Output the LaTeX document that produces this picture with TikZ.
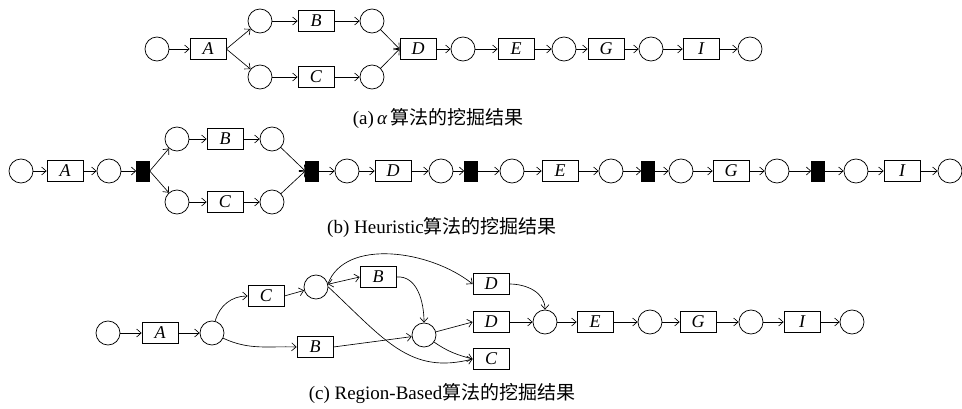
\documentclass[tikz,border=0pt]{standalone}
\usepackage{fontspec}
\setmainfont{Liberation Serif}
\newfontfamily\cjk{Noto Sans CJK SC}
\usetikzlibrary{arrows.meta}

\begin{document}
\begin{tikzpicture}[x=1pt,y=-1pt,
  place/.style={circle,draw,line width=0.75pt,minimum size=24pt,inner sep=0pt},
  trans/.style={rectangle,draw,fill=white,line width=0.75pt,minimum width=36pt,minimum height=21pt,inner sep=0pt,
    font=\fontsize{18}{18}\selectfont\itshape},
  silent/.style={rectangle,fill=black,draw,line width=0.5pt,minimum width=13pt,minimum height=20pt,inner sep=0pt},
  arc/.style={-{Straight Barb[length=4.5pt,width=8pt]},line width=0.65pt},
  biarc/.style={{Straight Barb[length=4.5pt,width=8pt]}-{Straight Barb[length=4.5pt,width=8pt]},line width=0.65pt},
  captext/.style={font=\fontsize{19}{19}\selectfont,inner sep=0pt}
]
\useasboundingbox (0,0) rectangle (962,408);

% ---------- (a) alpha algorithm ----------
\node[place] (a1) at (157,49) {};
\node[trans] (aA) at (208,49) {A};
\node[place] (a2) at (260,21) {};
\node[place] (a3) at (260,77) {};
\node[trans] (aB) at (316,21) {B};
\node[trans] (aC) at (316,77) {C};
\node[place] (a4) at (372,21) {};
\node[place] (a5) at (372,77) {};
\node[trans] (aD) at (418,49) {D};
\node[place] (a6) at (463,49) {};
\node[trans] (aE) at (516,49) {E};
\node[place] (a7) at (564,49) {};
\node[trans] (aG) at (606,49) {G};
\node[place] (a8) at (651,49) {};
\node[trans] (aI) at (701,49) {I};
\node[place] (a9) at (750,49) {};

\draw[arc] (a1) -- (aA);
\draw[arc] (aA.east) -- (a2);
\draw[arc] (aA.east) -- (a3);
\draw[arc] (a2) -- (aB);
\draw[arc] (aB) -- (a4);
\draw[arc] (a3) -- (aC);
\draw[arc] (aC) -- (a5);
\draw[arc] (a4) -- (aD.west);
\draw[arc] (a5) -- (aD.west);
\draw[arc] (aD) -- (a6);
\draw[arc] (a6) -- (aE);
\draw[arc] (aE) -- (a7);
\draw[arc] (a7) -- (aG);
\draw[arc] (aG) -- (a8);
\draw[arc] (a8) -- (aI);
\draw[arc] (aI) -- (a9);

\node[captext] (capa) at (438,118) {(a)\,{\itshape α}\,{\cjk 算法的挖掘结果}};

% ---------- (b) Heuristic miner ----------
\node[place] (b1) at (21,171) {};
\node[trans] (bA) at (65,171) {A};
\node[place] (b2) at (109,171) {};
\node[silent] (s1) at (143,171) {};
\node[place] (b3) at (177,139) {};
\node[place] (b4) at (177,202) {};
\node[trans] (bB) at (225,139) {B};
\node[trans] (bC) at (225,202) {C};
\node[place] (b5) at (272,139) {};
\node[place] (b6) at (272,202) {};
\node[silent] (s2) at (312,171) {};
\node[place] (b7) at (347,171) {};
\node[trans] (bD) at (393,171) {D};
\node[place] (b8) at (441,171) {};
\node[silent] (s3) at (471,171) {};
\node[place] (b9) at (512,171) {};
\node[trans] (bE) at (560,171) {E};
\node[place] (b10) at (611,171) {};
\node[silent] (s4) at (648,171) {};
\node[place] (b11) at (681,171) {};
\node[trans] (bG) at (731,171) {G};
\node[place] (b12) at (777,171) {};
\node[silent] (s5) at (818,171) {};
\node[place] (b13) at (856,171) {};
\node[trans] (bI) at (902,171) {I};
\node[place] (b14) at (950,171) {};

\draw[arc] (b1) -- (bA);
\draw[arc] (bA) -- (b2);
\draw[arc] (b2) -- (s1);
\draw[arc] (s1.east) -- (b3);
\draw[arc] (s1.east) -- (b4);
\draw[arc] (b3) -- (bB);
\draw[arc] (bB) -- (b5);
\draw[arc] (b4) -- (bC);
\draw[arc] (bC) -- (b6);
\draw[arc] (b5) -- (s2.west);
\draw[arc] (b6) -- (s2.west);
\draw[arc] (s2) -- (b7);
\draw[arc] (b7) -- (bD);
\draw[arc] (bD) -- (b8);
\draw[arc] (b8) -- (s3);
\draw[arc] (s3) -- (b9);
\draw[arc] (b9) -- (bE);
\draw[arc] (bE) -- (b10);
\draw[arc] (b10) -- (s4);
\draw[arc] (s4) -- (b11);
\draw[arc] (b11) -- (bG);
\draw[arc] (bG) -- (b12);
\draw[arc] (b12) -- (s5);
\draw[arc] (s5) -- (b13);
\draw[arc] (b13) -- (bI);
\draw[arc] (bI) -- (b14);

\node[captext] (capb) at (442,227) {(b) Heuristic{\cjk 算法的挖掘结果}};

% ---------- (c) Region-based miner ----------
\node[place] (c1) at (108,333) {};
\node[trans] (cA) at (160,333) {A};
\node[place] (p2) at (212,333) {};
\node[trans] (cC) at (266,296) {C};
\node[trans] (cBl) at (315,347) {B};
\node[place] (p3) at (316,287) {};
\node[trans] (cBu) at (378,277) {B};
\node[place] (p4) at (424,335) {};
\node[trans] (cDt) at (491,284) {D};
\node[trans] (cDm) at (491,322) {D};
\node[trans] (cCb) at (491,359) {C};
\node[place] (p5) at (545,322) {};
\node[trans] (cE) at (595,322) {E};
\node[place] (c6) at (650,322) {};
\node[trans] (cG) at (698,322) {G};
\node[place] (c7) at (751,322) {};
\node[trans] (cI) at (802,322) {I};
\node[place] (c8) at (852,322) {};

\draw[arc] (c1) -- (cA);
\draw[arc] (cA) -- (p2);
\draw[arc] (p2) to[out=75,in=180] (cC.west);
\draw[arc] (p2) to[out=-25,in=178] (cBl.west);
\draw[arc] (cC.east) -- (p3);
\draw[biarc] (p3) -- (cBu.west);
\draw[arc] (p3.15) .. controls (345,238) and (430,250) .. (cDt.west);
\draw[arc] (p3.east) .. controls (385,340) and (410,375) .. (cCb.west);
\draw[arc] (cBu.east) to[out=5,in=90] (p4);
\draw[arc] (cBl.east) -- (p4);
\draw[arc] (p4) -- (cDm.west);
\draw[arc] (p4) to[out=-35,in=165] (cCb.west);
\draw[arc] (cDt.east) to[out=0,in=90] (p5);
\draw[arc] (cDm) -- (p5);
\draw[arc] (p5) -- (cE);
\draw[arc] (cE) -- (c6);
\draw[arc] (c6) -- (cG);
\draw[arc] (cG) -- (c7);
\draw[arc] (c7) -- (cI);
\draw[arc] (cI) -- (c8);

\node[captext] (capc) at (442,393) {(c) Region-Based{\cjk 算法的挖掘结果}};
\end{tikzpicture}
\end{document}
